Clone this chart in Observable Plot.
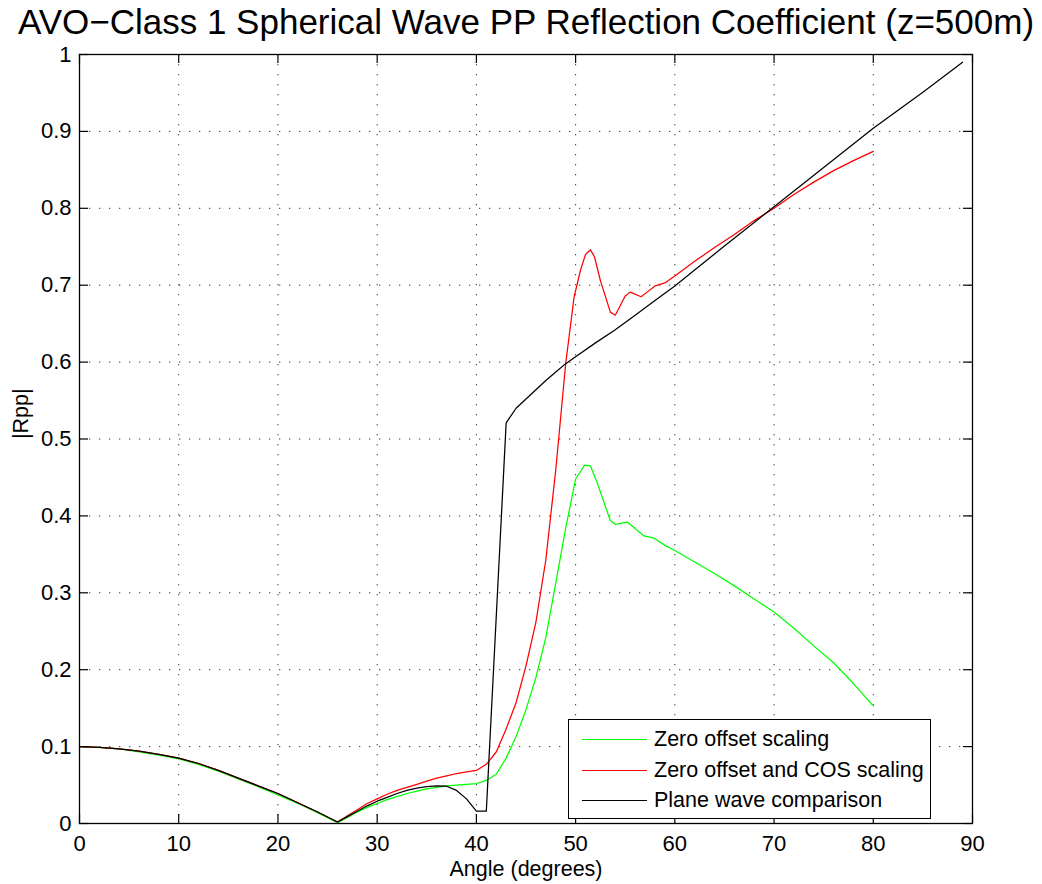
<!DOCTYPE html>
<html>
<head>
<meta charset="utf-8">
<script src="https://cdn.jsdelivr.net/npm/d3@7"></script>
<script src="https://cdn.jsdelivr.net/npm/@observablehq/plot@0.6"></script>
<style>
  html, body { margin: 0; padding: 0; background: #fff; }
  body { font-family: "Liberation Sans", Arial, Helvetica, sans-serif; }
  #wrap { position: relative; width: 1042px; height: 884px; }
  #legend { position: absolute; left: 568px; top: 719px; width: 363px; height: 100px;
            box-sizing: border-box; border: 1.3px solid #000; background: #fff; }
  .sw { position: absolute; left: 13px; width: 65px; height: 0; border-top: 1.3px solid; }
  .lbl { position: absolute; left: 85px; font-size: 21.5px; line-height: 24px; color: #000; white-space: nowrap; }
</style>
</head>
<body>
<div id="wrap">
  <div id="chart"></div>
  <div id="legend"></div>
</div>
<script>
// ---- Data ----
const titleText = "AVO\u2212Class 1 Spherical Wave PP Reflection Coefficient (z=500m)";
const xLabel = "Angle (degrees)";
const yLabel = "|Rpp|";
const xTicks = [0, 10, 20, 30, 40, 50, 60, 70, 80, 90];
const yTicks = [0, 0.1, 0.2, 0.3, 0.4, 0.5, 0.6, 0.7, 0.8, 0.9, 1];

const seriesNames = ["Zero offset scaling", "Zero offset and COS scaling", "Plane wave comparison"];
const seriesColors = ["#00ff00", "#ff0000", "#000000"];

// Zero offset scaling (green)
const greenAngle = [0, 2, 4, 6, 8, 10, 12, 14, 16, 18, 20, 22, 24, 26, 27, 28, 29, 30, 31, 32, 33, 34, 35, 36, 37, 38, 39, 40,
  41, 42, 43, 44, 45, 46, 47, 48, 49, 50, 50.9, 51.5, 52.2, 53.5, 54, 55.2, 56.9, 57.9, 59.1, 60, 62, 64, 66, 68, 70, 72, 74, 76, 78, 80];
const greenValue = [0.100, 0.099, 0.097, 0.093, 0.089, 0.084, 0.077, 0.068, 0.058, 0.048, 0.037, 0.026, 0.014, 0.001, 0.008, 0.015, 0.021, 0.026, 0.031, 0.035, 0.039, 0.042, 0.045, 0.047, 0.049, 0.050, 0.051, 0.052,
  0.056, 0.064, 0.085, 0.113, 0.148, 0.190, 0.242, 0.313, 0.384, 0.448, 0.466, 0.465, 0.442, 0.394, 0.389, 0.392, 0.374, 0.371, 0.361, 0.355, 0.340, 0.325, 0.309, 0.292, 0.275, 0.254, 0.231, 0.209, 0.182, 0.153];

// Zero offset and COS scaling (red)
const redAngle = [0, 2, 4, 6, 8, 10, 12, 14, 16, 18, 20, 22, 24, 26, 27, 28, 29, 30, 31, 32, 33, 34, 35, 36, 37, 38, 39, 40,
  41, 42, 43, 44, 45, 46, 47, 48, 49, 49.85, 50.5, 51, 51.5, 51.9, 52.5, 53.5, 54, 55, 55.5, 56.6, 57.2, 58, 59, 60, 62, 64, 66, 68, 70, 72, 74, 76, 78, 80];
const redValue = [0.100, 0.099, 0.097, 0.094, 0.090, 0.085, 0.078, 0.069, 0.059, 0.049, 0.039, 0.027, 0.015, 0.002, 0.010, 0.018, 0.026, 0.032, 0.038, 0.043, 0.047, 0.051, 0.055, 0.059, 0.062, 0.065, 0.067, 0.069,
  0.077, 0.093, 0.123, 0.157, 0.205, 0.262, 0.343, 0.460, 0.598, 0.685, 0.720, 0.740, 0.746, 0.737, 0.706, 0.665, 0.661, 0.686, 0.691, 0.685, 0.691, 0.699, 0.703, 0.712, 0.731, 0.749, 0.766, 0.784, 0.800, 0.818, 0.834, 0.849, 0.862, 0.874];

// Plane wave comparison (black)
const blackAngle = [0, 2, 4, 6, 8, 10, 12, 14, 16, 18, 20, 22, 24, 26, 27, 28, 29, 30, 31, 32, 33, 34, 35, 36, 37, 38, 39, 40,
  41, 43, 44, 45, 46, 47, 48, 49, 50, 52, 54, 56, 58, 60, 65, 70, 75, 80, 85, 89];
const blackValue = [0.100, 0.099, 0.097, 0.094, 0.090, 0.085, 0.078, 0.069, 0.059, 0.049, 0.039, 0.027, 0.015, 0.002, 0.009, 0.016, 0.023, 0.029, 0.034, 0.039, 0.043, 0.046, 0.048, 0.049, 0.0485, 0.043, 0.032, 0.016,
  0.016, 0.521, 0.540, 0.552, 0.564, 0.576, 0.587, 0.598, 0.607, 0.625, 0.642, 0.661, 0.680, 0.699, 0.751, 0.802, 0.853, 0.904, 0.951, 0.990];

// ---- Build tidy table ----
const rows = [];
[[greenAngle, greenValue], [redAngle, redValue], [blackAngle, blackValue]].forEach(([a, v], i) => {
  a.forEach((x, j) => rows.push({angle: x, value: v[j], series: seriesNames[i]}));
});

const W = 1042, H = 884;
const mL = 79, mR = 70, mT = 54, mB = 61;
const frameW = W - mL - mR, frameH = H - mT - mB;
const FONT = "'Liberation Sans', Arial, Helvetica, sans-serif";

const chart = Plot.plot({
  width: W, height: H,
  marginLeft: mL, marginRight: mR, marginTop: mT, marginBottom: mB,
  style: {fontFamily: FONT, background: "white", color: "black"},
  x: {domain: [0, 90]},
  y: {domain: [0, 1]},
  color: {domain: seriesNames, range: seriesColors},
  marks: [
    // dotted grid
    Plot.ruleX(xTicks.slice(1, -1), {x: d => d, stroke: "#000", strokeOpacity: 0.8, strokeDasharray: "1.3,8.7"}),
    Plot.ruleY(yTicks.slice(1, -1), {y: d => d, stroke: "#000", strokeOpacity: 0.8, strokeDasharray: "1.3,8.7"}),
    // series
    Plot.line(rows, {x: "angle", y: "value", z: "series", stroke: "series", strokeWidth: 1.25, curve: "linear"}),
    // frame
    Plot.frame({stroke: "#000", strokeWidth: 1.3}),
    // inward ticks on all four sides
    Plot.tickX(xTicks, {x: d => d, stroke: "#000", strokeWidth: 1.2, insetTop: frameH - 9}),
    Plot.tickX(xTicks, {x: d => d, stroke: "#000", strokeWidth: 1.2, insetBottom: frameH - 9}),
    Plot.tickY(yTicks, {y: d => d, stroke: "#000", strokeWidth: 1.2, insetRight: frameW - 9}),
    Plot.tickY(yTicks, {y: d => d, stroke: "#000", strokeWidth: 1.2, insetLeft: frameW - 9}),
    // tick labels
    Plot.axisX({ticks: xTicks, tickSize: 0, tickPadding: 12, fontSize: 22, label: null, tickFormat: d => String(d)}),
    Plot.axisY({ticks: yTicks, tickSize: 0, tickPadding: 8, fontSize: 22, label: null, tickFormat: d => String(d)}),
    // title & axis labels
    Plot.text([titleText], {text: d => d, frameAnchor: "top", lineAnchor: "bottom", dy: -21, fontSize: 35, fill: "#000"}),
    Plot.text([xLabel], {text: d => d, frameAnchor: "bottom", lineAnchor: "bottom", dy: 52, fontSize: 21.5, fill: "#000"}),
    Plot.text([yLabel], {text: d => d, frameAnchor: "left", lineAnchor: "bottom", rotate: -90, dx: -52, fontSize: 21.5, fill: "#000"})
  ]
});
document.getElementById("chart").appendChild(chart);

// ---- Legend ----
const legend = document.getElementById("legend");
const rowCenters = [19, 50, 80];
seriesNames.forEach((name, i) => {
  const sw = document.createElement("div");
  sw.className = "sw";
  sw.style.top = rowCenters[i] + "px";
  sw.style.borderTopColor = seriesColors[i];
  legend.appendChild(sw);
  const lb = document.createElement("div");
  lb.className = "lbl";
  lb.style.top = (rowCenters[i] - 12) + "px";
  lb.textContent = name;
  legend.appendChild(lb);
});
</script>
</body>
</html>
